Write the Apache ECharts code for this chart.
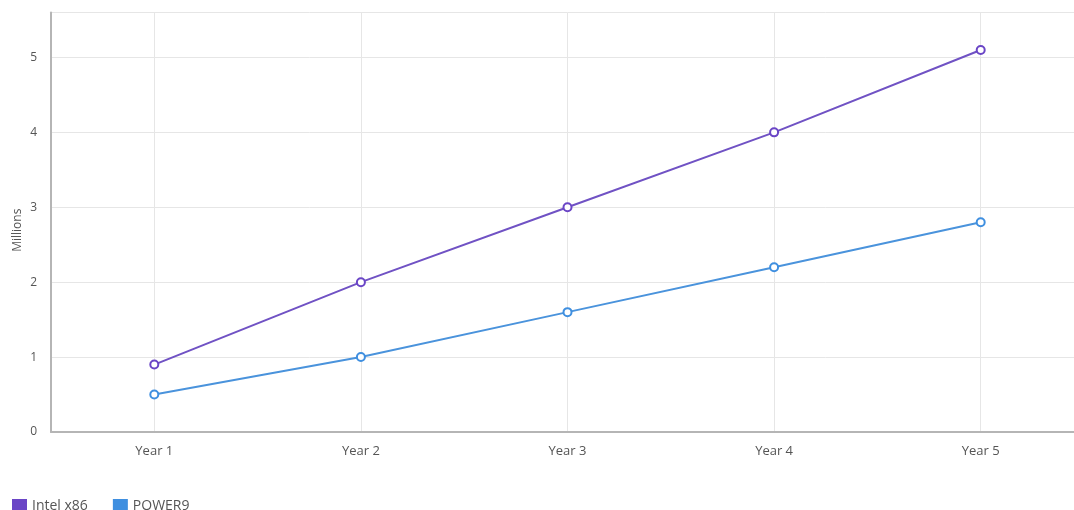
<!DOCTYPE html>
<html><head><meta charset="utf-8">
<script src="https://cdn.jsdelivr.net/npm/echarts@6/dist/echarts.min.js"></script>
<style>html,body{margin:0;padding:0;background:#fff;overflow:hidden}#c{width:1084px;height:510px}</style>
</head><body><div id="c"></div>
<script>
const categories = ['Year 1','Year 2','Year 3','Year 4','Year 5'];
const intelX86 = [0.9, 2.0, 3.0, 4.0, 5.1];
const power9 = [0.5, 1.0, 1.6, 2.2, 2.8];
const seriesNames = ['Intel x86','POWER9'];
const colors = ['#6a45c6','#3f8fe0'];

const chart = echarts.init(document.getElementById('c'));
const font = '"Open Sans", "Noto Sans", sans-serif';
chart.setOption({
  animation: false,
  color: colors,
  textStyle: {fontFamily: font},
  legend: {
    left: 7, top: 494, itemWidth: 15, itemHeight: 15, itemGap: 25,
    icon: 'rect',
    textStyle: {fontSize: 14, color: '#555', fontFamily: font},
    data: seriesNames.map((n, i) => ({name: n, itemStyle: {color: colors[i], borderWidth: 0}}))
  },
  grid: {left: 51, top: 12.5, bottom: 78, right: 0, containLabel: false},
  xAxis: {
    type: 'category', data: categories, boundaryGap: true,
    axisLine: {lineStyle: {color: '#b5b5b5', width: 2}},
    axisTick: {show: false},
    axisLabel: {color: '#555', fontSize: 13, margin: 13},
    splitLine: {show: true, alignWithLabel: true, lineStyle: {color: '#e6e6e6', width: 1}}
  },
  yAxis: {
    type: 'value', min: 0, max: 5.6, interval: 1,
    name: 'Millions', nameLocation: 'middle', nameGap: 27, nameRotate: 90, nameMoveOverlap: false,
    nameTextStyle: {color: '#555', fontSize: 12, padding: [0, 16, 0, 0]},
    axisLine: {show: true, lineStyle: {color: '#b5b5b5', width: 2}},
    axisTick: {show: false},
    axisLabel: {color: '#555', fontSize: 12, margin: 14, showMaxLabel: false},
    splitLine: {show: true, lineStyle: {color: '#e6e6e6', width: 1}}
  },
  series: [
    {name: seriesNames[0], type: 'line', data: intelX86, symbol: 'circle', symbolSize: 8,
     lineStyle: {width: 2, color: '#7052c4'},
     itemStyle: {color: '#fff', borderColor: '#6a45c6', borderWidth: 2}},
    {name: seriesNames[1], type: 'line', data: power9, symbol: 'circle', symbolSize: 8,
     lineStyle: {width: 2, color: '#4a93dc'},
     itemStyle: {color: '#fff', borderColor: '#3f8fe0', borderWidth: 2}}
  ]
});
</script></body></html>
